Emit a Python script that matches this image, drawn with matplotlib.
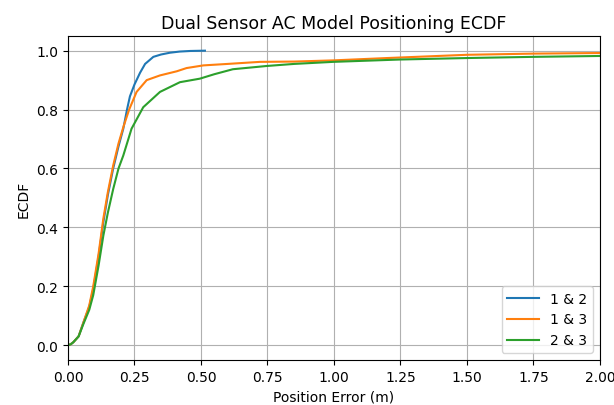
import matplotlib
matplotlib.use("Agg")
import matplotlib.pyplot as plt

labels = ["1 & 2", "1 & 3", "2 & 3"]

x12 = [0.0, 0.01, 0.02, 0.04, 0.058, 0.08, 0.095, 0.115, 0.133, 0.15, 0.17, 0.19, 0.208, 0.222, 0.233, 0.25, 0.271, 0.29, 0.321, 0.35, 0.383, 0.42, 0.46, 0.515]
y12 = [0.0, 0.003, 0.01, 0.03, 0.077, 0.13, 0.19, 0.3, 0.417, 0.51, 0.6, 0.675, 0.735, 0.8, 0.845, 0.885, 0.925, 0.955, 0.979, 0.987, 0.993, 0.997, 0.999, 1.0]

x13 = [0.0, 0.01, 0.02, 0.04, 0.058, 0.08, 0.095, 0.115, 0.133, 0.15, 0.17, 0.19, 0.208, 0.23, 0.258, 0.296, 0.346, 0.409, 0.446, 0.509, 0.6, 0.722, 0.85, 0.997, 1.2, 1.5, 1.75, 2.0, 2.1]
y13 = [0.0, 0.003, 0.01, 0.03, 0.077, 0.135, 0.2, 0.31, 0.43, 0.52, 0.61, 0.685, 0.74, 0.8, 0.86, 0.9, 0.916, 0.93, 0.941, 0.95, 0.955, 0.962, 0.963, 0.967, 0.975, 0.986, 0.99, 0.992, 0.993]

x23 = [0.0, 0.01, 0.02, 0.04, 0.058, 0.08, 0.095, 0.115, 0.133, 0.15, 0.17, 0.19, 0.208, 0.239, 0.283, 0.346, 0.421, 0.496, 0.55, 0.62, 0.747, 0.85, 0.997, 1.25, 1.5, 1.75, 2.0, 2.1]
y23 = [0.0, 0.003, 0.01, 0.03, 0.072, 0.12, 0.17, 0.27, 0.372, 0.45, 0.53, 0.6, 0.644, 0.735, 0.808, 0.86, 0.893, 0.905, 0.92, 0.937, 0.948, 0.955, 0.962, 0.97, 0.975, 0.979, 0.982, 0.983]

fig = plt.figure(figsize=(6.14, 4.06), dpi=100)
ax = fig.add_axes([0.1107, 0.111, 0.8663, 0.798])
ax.plot(x12, y12, color="#1f77b4", lw=1.5, label=labels[0])
ax.plot(x13, y13, color="#ff7f0e", lw=1.5, label=labels[1])
ax.plot(x23, y23, color="#2ca02c", lw=1.5, label=labels[2])
ax.set_xlim(0, 2.0)
ax.set_ylim(-0.05, 1.05)
ax.set_xticks([0, 0.25, 0.5, 0.75, 1.0, 1.25, 1.5, 1.75, 2.0])
ax.set_xticklabels(["0.00", "0.25", "0.50", "0.75", "1.00", "1.25", "1.50", "1.75", "2.00"])
ax.set_yticks([0, 0.2, 0.4, 0.6, 0.8, 1.0])
ax.grid(True)
ax.set_xlabel("Position Error (m)")
ax.set_ylabel("ECDF")
ax.set_title("Dual Sensor AC Model Positioning ECDF", fontsize=12.5)
ax.legend(loc="lower right", handlelength=2.3)
fig.savefig("out.png", dpi=100)
